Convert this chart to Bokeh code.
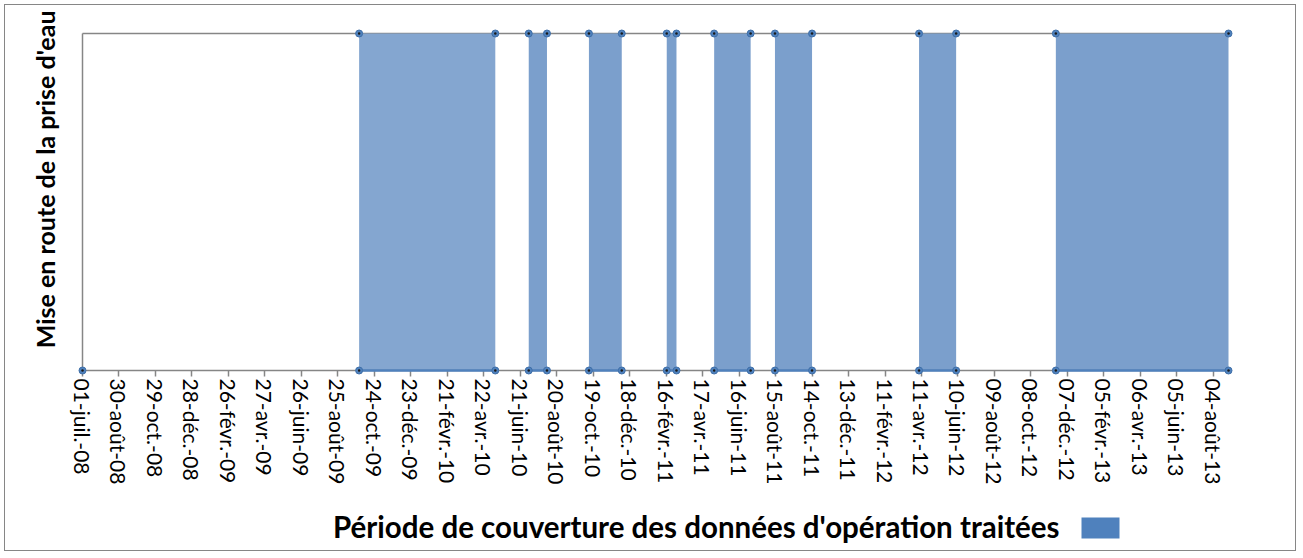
import pandas as pd
from math import pi
from bokeh.plotting import figure
from bokeh.models import Range1d, FixedTicker, Title, Label, BoxAnnotation
from bokeh.embed import file_html
from bokeh.resources import INLINE

# ---------------- data ----------------
series_start = "2008-07-01"
period_start = ["2009-09-29", "2010-07-05", "2010-10-12", "2011-02-17",
                "2011-05-06", "2011-08-14", "2012-04-07", "2012-11-18"]
period_end = ["2010-05-11", "2010-08-04", "2010-12-05", "2011-03-05",
              "2011-07-05", "2011-10-14", "2012-06-07", "2013-08-29"]
period_level = [1, 1, 1, 1, 1, 1, 1, 1]
tick_step_days = 60
tick_labels = ["01-juil.-08", "30-août-08", "29-oct.-08", "28-déc.-08", "26-févr.-09",
               "27-avr.-09", "26-juin-09", "25-août-09", "24-oct.-09", "23-déc.-09",
               "21-févr.-10", "22-avr.-10", "21-juin-10", "20-août-10", "19-oct.-10",
               "18-déc.-10", "16-févr.-11", "17-avr.-11", "16-juin-11", "15-août-11",
               "14-oct.-11", "13-déc.-11", "11-févr.-12", "11-avr.-12", "10-juin-12",
               "09-août-12", "08-oct.-12", "07-déc.-12", "05-févr.-13", "06-avr.-13",
               "05-juin-13", "04-août-13"]
y_title = "Mise en route de la prise d'eau"
legend_label = "Période de couverture des données d'opération traitées"

# ---------------- styles / layout ----------------
FONT = "Lato"
GRAY = "#868686"
BLUE = "#4F81BD"
block_fill = ["#84A6D0"] + ["#7B9FCC"] * 7

t0 = pd.Timestamp(series_start)
xs = [(pd.Timestamp(d) - t0).days for d in period_start]
xe = [(pd.Timestamp(d) - t0).days for d in period_end]
span = max(xe)

W, H = 1292, 547            # canvas (inside a 1px border, placed 4px from the corner)
DATA_W, DATA_H = 1146, 337  # pixel size of the 0..1 data area
PAD_L, PAD_R = 14, 4        # frame room left/right of the data (labels, markers)
ABOVE = 28                  # pixels of frame above value 1
BELOW = 177                 # pixels of frame below value 0 (tick labels + legend)
ML = 63
MT = 0
MB = H - MT - (DATA_H + ABOVE + BELOW)
MR = W - ML - (DATA_W + PAD_L + PAD_R)

px_day = DATA_W / span

p = figure(width=W, height=H, output_backend="svg", toolbar_location=None,
           x_range=Range1d(-PAD_L / px_day, span + PAD_R / px_day),
           y_range=Range1d(-BELOW / DATA_H, 1 + ABOVE / DATA_H),
           min_border_left=ML, min_border_right=MR, min_border_top=MT, min_border_bottom=MB)
p.outline_line_color = None
p.background_fill_color = "white"
p.border_fill_color = "white"
p.styles = {"border": "1px solid " + GRAY, "margin": "4px 0 0 4px"}
p.xgrid.visible = False
p.ygrid.visible = False

# x axis at value 0
ticks = list(range(0, tick_step_days * len(tick_labels), tick_step_days))
xa = p.xaxis[0]
xa.fixed_location = 0
xa.bounds = (0, span)
xa.ticker = FixedTicker(ticks=ticks)
xa.major_label_overrides = {t: lab for t, lab in zip(ticks, tick_labels)}
xa.major_label_orientation = -pi / 2
xa.major_label_text_font = FONT
xa.major_label_text_font_size = "21px"
xa.major_label_text_color = "black"
xa.major_label_standoff = 2
xa.axis_line_color = GRAY
xa.axis_line_width = 1.5
xa.major_tick_line_color = GRAY
xa.major_tick_line_width = 1.5
xa.major_tick_out = 6
xa.major_tick_in = 0
xa.minor_tick_line_color = None

# y axis (line only) at the first date
ya = p.yaxis[0]
ya.fixed_location = 0
ya.bounds = (0, 1)
ya.ticker = FixedTicker(ticks=[0, 1])
ya.major_label_overrides = {0: " ", 1: " "}
ya.major_label_text_font_size = "1px"
ya.major_label_standoff = 0
ya.major_tick_out = 0
ya.major_tick_in = 0
ya.axis_line_color = GRAY
ya.axis_line_width = 1.5
ya.major_tick_line_color = None
ya.minor_tick_line_color = None

# y title in the left panel, its end near the top as in the original
yt = Title(text=y_title, align="right", offset=5, text_font=FONT,
           text_font_style="bold", text_font_size="25px", text_color="black")
try:
    yt.standoff = 18
except Exception:
    pass
p.add_layout(yt, "left")

# horizontal gridline at value 1, spanning the data period
grid = p.segment(x0=[0], y0=[1], x1=[span], y1=[1], line_color=GRAY, line_width=1.5)
grid.level = "underlay"

# coverage blocks
p.quad(left=xs, right=xe, bottom=0, top=period_level, fill_color=block_fill,
       fill_alpha=1.0, line_color=None)
seg = p.segment(x0=xs, y0=0, x1=xe, y1=0, line_color=BLUE, line_width=2.5)
seg.level = "overlay"

# markers at every corner of the step series
mx = [0]
my = [0]
for s, e, lv in zip(xs, xe, period_level):
    mx += [s, s, e, e]
    my += [0, lv, lv, 0]
m1 = p.scatter(mx, my, marker="circle", size=7, fill_color=BLUE, line_color="#3F6FA8",
               line_width=1)
m2 = p.scatter(mx, my, marker="circle", size=2.5, fill_color="#1a1a1a", line_color=None)
m1.level = "overlay"
m2.level = "overlay"

# legend (text, then the blue key on its right), below the tick labels
LEG_TEXT_RIGHT, LEG_MID = 977, 156      # px from the data origin (right / down)
KEY_L, KEY_R, KEY_T, KEY_B = 999, 1037, 147, 168
p.add_layout(Label(x=LEG_TEXT_RIGHT / px_day, y=-LEG_MID / DATA_H, text=legend_label,
                   text_align="right", text_baseline="middle",
                   text_font=FONT, text_font_style="bold", text_font_size="29.5px",
                   text_color="black"))
p.add_layout(BoxAnnotation(left=KEY_L / px_day, right=KEY_R / px_day,
                           top=-KEY_T / DATA_H, bottom=-KEY_B / DATA_H,
                           fill_color=BLUE, fill_alpha=1.0, line_color=None))

open("out.html", "w").write(file_html(p, INLINE))
